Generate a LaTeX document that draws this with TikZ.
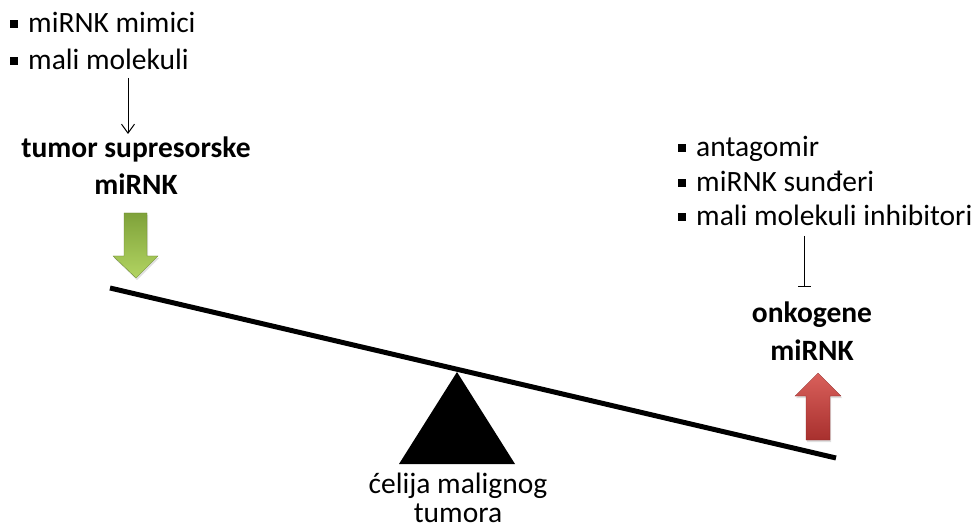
\documentclass[tikz,border=0pt]{standalone}
\usepackage{fontspec}
\setmainfont{Carlito}
\usetikzlibrary{arrows.meta,shadows}
\definecolor{gtop}{HTML}{7FA23A}
\definecolor{gbot}{HTML}{B2D462}
\definecolor{rtop}{HTML}{D9605B}
\definecolor{rbot}{HTML}{A8302E}
\begin{document}
\begin{tikzpicture}[x=1pt,y=-1pt,
  txt/.style={font=\fontsize{29.5}{34}\selectfont, inner sep=0pt, anchor=base west},
  ctxt/.style={font=\fontsize{29.5}{34}\selectfont, inner sep=0pt, anchor=base},
  btxt/.style={font=\fontsize{29.5}{34}\selectfont\bfseries, inner sep=0pt, anchor=base},
  thin arrow/.style={line width=1pt, -{Straight Barb[length=9pt,width=13pt]}},
  inhibit/.style={line width=1pt, -{Bar[width=13pt]}},
  beam/.style={line width=5pt},
  bigarrow/.style={drop shadow={opacity=0.25, shadow xshift=1pt, shadow yshift=-2pt}}
]
\newcommand{\bul}{\rule[5pt]{8pt}{8pt}\hspace{10pt}}
\useasboundingbox (0,0) rectangle (977,529);

% top-left list
\node[txt] (l1) at (10,33) {\bul miRNK mimici};
\node[txt] (l2) at (10,70) {\bul mali molekuli};
\coordinate (a1) at (128,78);
\coordinate (a2) at (128,134);
\draw[thin arrow] (a1) -- (a2);

% tumor supresorske
\node[btxt] (ts1) at (136,158) {tumor supresorske};
\node[btxt] (ts2) at (136,195) {miRNK};

% green arrow
\path[bigarrow, top color=gtop, bottom color=gbot, draw=gtop!80!black, line width=0.3pt]
  (124,213) -- (147,213) -- (147,256) -- (158,256) -- (136,278) -- (113,256) -- (124,256) -- cycle;

% right list
\node[txt] (r1) at (678,157) {\bul antagomir};
\node[txt] (r2) at (678,192) {\bul miRNK sunđeri};
\node[txt] (r3) at (678,226) {\bul mali molekuli inhibitori};
\coordinate (b1) at (804,236);
\coordinate (b2) at (804,287);
\draw[inhibit] (b1) -- (b2);

% onkogene
\node[btxt] (on1) at (812,323) {onkogene};
\node[btxt] (on2) at (812,360) {miRNK};

% red arrow
\path[bigarrow, top color=rtop, bottom color=rbot, draw=rbot!80!black, line width=0.3pt]
  (818,373) -- (841,396) -- (830,396) -- (830,440) -- (806,440) -- (806,396) -- (795,396) -- cycle;

% beam and fulcrum
\coordinate (bl) at (110,288);
\coordinate (br) at (836,458);
\draw[beam] (bl) -- (br);
\fill (457,372) -- (515,464) -- (399,464) -- cycle;

% label
\node[ctxt] (c1) at (458,493) {ćelija malignog};
\node[ctxt] (c2) at (458,522) {tumora};
\end{tikzpicture}
\end{document}
